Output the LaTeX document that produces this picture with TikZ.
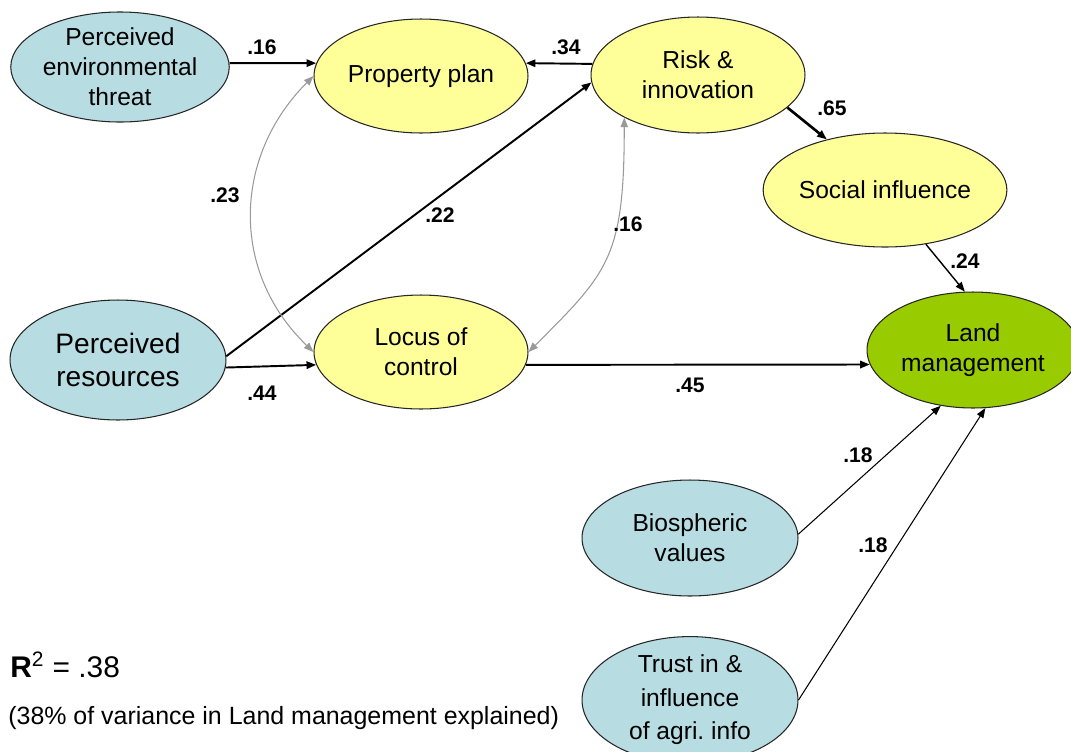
\documentclass[tikz,border=0pt]{standalone}
\usepackage{fontspec}
\setmainfont{Liberation Sans}
\usepackage{tikz}
\usetikzlibrary{arrows.meta}
\usetikzlibrary{shapes.geometric}
\definecolor{exogblue}{RGB}{183,221,226}
\definecolor{mediyellow}{RGB}{255,255,153}
\definecolor{outgreen}{RGB}{153,204,0}
\tikzset{
    var/.style={ellipse, draw=black!85, line width=0.6pt, inner sep=0pt, align=center,
        font=\fontsize{14}{17}\selectfont, minimum width=4.28cm, minimum height=2.28cm},
    exog/.style={var, fill=exogblue},
    medi/.style={var, fill=mediyellow},
    outc/.style={var, fill=outgreen},
    coef/.style={font=\fontsize{12}{14}\selectfont\bfseries, inner sep=0pt},
    caus/.style={->, line width=1.1pt},
    weak/.style={->, line width=0.6pt},
    cov/.style={<->, line width=0.6pt, color=black!40},
}

\begin{document}
\begin{tikzpicture}[x=0.02cm, y=-0.02cm, >={Triangle[length=5.5pt,width=4.2pt]}]
    \useasboundingbox (0,0) rectangle (1071,751);
    \node[exog, minimum height=2.2cm] (A) at (120,67) {Perceived\\environmental\\threat};
    \node[medi] (B) at (421,76) {Property plan};
    \node[medi, minimum height=2.32cm] (C) at (698,75) {Risk \&\\innovation};
    \node[medi] (D) at (885,190) {Social influence};
    \node[exog, minimum width=4.32cm, minimum height=2.4cm,
        font=\fontsize{16}{19}\selectfont] (E) at (118,360) {Perceived\\resources};
    \node[medi] (F) at (421,352) {Locus of\\control};
    \node[outc, minimum width=4.24cm, minimum height=2.32cm] (G) at (973,350) {Land\\management};
    \node[exog, minimum width=4.32cm, minimum height=2.32cm] (H) at (690,538) {Biospheric\\values};
    \node[exog, minimum width=4.32cm, minimum height=2.32cm,
        font=\fontsize{14}{19}\selectfont] (I) at (690,700) {Trust in \&\\influence\\of agri.\ info};
    \path [caus] (A.2) edge (B.173);
    \path [caus] (C.174) edge (B.7);
    \path [caus] (E.2) edge (C.184);
    \path [caus] (E.-4) edge (F.187);
    \path [caus] (F.-7) edge (G.188);
    \path [caus, line width=1.5pt] (C.-20) edge (D.139);
    \path [weak, line width=0.8pt] (D.-53) edge (G.98);
    \path [weak] (H.2) edge (G.240);
    \path [weak] (I.0) edge (G.-78);
    \draw [cov] (B.west) .. controls +(-80,80) and +(-84,-81) .. (F.west);
    \draw [cov] (C.210) .. controls +(0,140) and +(80,-80) .. (F.east);
    \node[coef] (cA) at (262,47) {.16};
    \node[coef] (cB) at (566,47) {.34};
    \node[coef] (cC) at (440,215) {.22};
    \node[coef] (cD) at (225,195) {.23};
    \node[coef] (cE) at (262,393) {.44};
    \node[coef] (cF) at (628,224) {.16};
    \node[coef] (cG) at (832,108) {.65};
    \node[coef] (cH) at (965,261) {.24};
    \node[coef] (cI) at (690,385) {.45};
    \node[coef] (cJ) at (858,455) {.18};
    \node[coef] (cK) at (873,545) {.18};
    \node[anchor=west, inner sep=0pt, font=\fontsize{17}{20}\selectfont] (R) at (10,665)
        {\textbf{R}\textsuperscript{2} = .38};
    \node[anchor=west, inner sep=0pt, font=\fontsize{14.2}{17}\selectfont] (S) at (8,718)
        {(38\% of variance in Land management explained)};
\end{tikzpicture}
\end{document}
